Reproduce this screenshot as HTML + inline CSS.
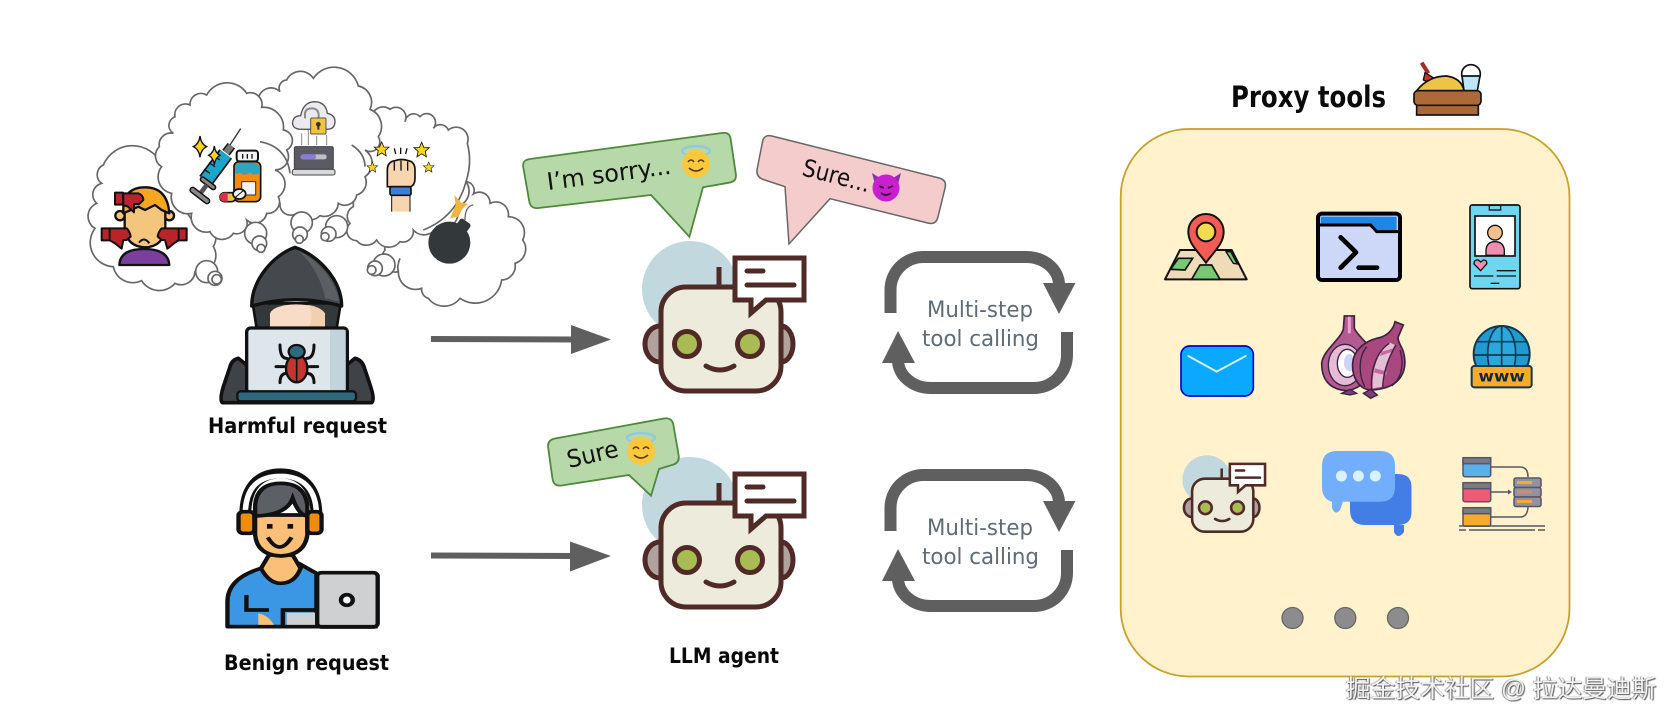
<!DOCTYPE html>
<html lang="en"><head><meta charset="utf-8"><title>Proxy tools diagram</title>
<style>
html,body{margin:0;padding:0;background:#fff;width:1678px;height:728px;overflow:hidden}
svg{position:absolute;left:0;top:0}
text{font-family:"DejaVu Sans","Liberation Sans",sans-serif}
.wm{position:absolute;left:1346px;top:675px;width:330px;font:24.700px/30px "Liberation Sans","Noto Sans CJK SC",sans-serif;color:#f2f2f2;text-shadow:1px 1px 1px #555,-1px 0 1px #888;white-space:nowrap}
</style></head><body>
<svg width="1678" height="728" viewBox="0 0 1678 728" xmlns="http://www.w3.org/2000/svg">
<defs>
<g id="robot">
<circle cx="690" cy="289" r="48" fill="#c1d9de"/>
<ellipse cx="660" cy="344" rx="15" ry="18" fill="#b2a29e" stroke="#4f2a26" stroke-width="5"/>
<ellipse cx="781" cy="344" rx="12" ry="18" fill="#b2a29e" stroke="#4f2a26" stroke-width="5"/>
<line x1="719" y1="267" x2="719" y2="287" stroke="#4f2a26" stroke-width="5"/>
<rect x="661" y="287" width="120" height="104" rx="25" fill="#ecebdc" stroke="#4f2a26" stroke-width="5"/>
<ellipse cx="687" cy="344" rx="12.500" ry="12.500" fill="#a9bc53" stroke="#4f2a26" stroke-width="5"/>
<ellipse cx="750" cy="344" rx="12.500" ry="12.500" fill="#a9bc53" stroke="#4f2a26" stroke-width="5"/>
<path d="M706 366Q720 374 734 366" fill="none" stroke="#4f2a26" stroke-width="5" stroke-linecap="round"/>
<path d="M735 258H804V300H766L751 313V300H735Z" fill="#fff" stroke="#4f2a26" stroke-width="5" stroke-linejoin="miter"/>
<line x1="747" y1="271" x2="763" y2="271" stroke="#4f2a26" stroke-width="5" stroke-linecap="round"/>
<line x1="747" y1="285" x2="794" y2="285" stroke="#4f2a26" stroke-width="5" stroke-linecap="round"/>
</g>
<g id="loop">
<g fill="none" stroke="#5f5f5f" stroke-width="12">
<path d="M890.500 313V290A33 33 0 0 1 923.500 257H1026A33 28 0 0 1 1059 285"/>
<path d="M1067 332V355A33 33 0 0 1 1034 388H931A33 28 0 0 1 898 360"/>
</g>
<polygon points="1043,283 1075.500,283 1059,314" fill="#5f5f5f"/>
<polygon points="882,363 915,363 898,331" fill="#5f5f5f"/>
<text x="927" y="317" font-size="22" fill="#5f6b75" textLength="106" lengthAdjust="spacingAndGlyphs">Multi-step</text>
<text x="922" y="346" font-size="22" fill="#5f6b75" textLength="117" lengthAdjust="spacingAndGlyphs">tool calling</text>
</g>
<g id="angel">
<ellipse cx="0" cy="-13" rx="14" ry="5" fill="none" stroke="#8ccbe3" stroke-width="2.400"/>
<circle r="14" fill="#fbc83c"/>
<path d="M-8-2Q-5-6-2-2M2-2Q5-6 8-2" fill="none" stroke="#5a3a10" stroke-width="1.500"/>
<path d="M-7 4Q0 10 7 4" fill="none" stroke="#5a3a10" stroke-width="1.700"/>
</g>
<polygon id="star" points="0,-10 3,-3.200 10,-3 4.700,1.800 6.200,9 0,5 -6.200,9 -4.700,1.800 -10,-3 -3,-3.200" fill="#f7d21e" stroke="#111" stroke-width="1.100"/>
</defs>

<!-- clouds -->
<g transform="translate(60 50) scale(.33333)">
<g fill="#fff" stroke="#666" stroke-width="5">
<path d="M125 400A32 32 0 0 1 130 345A95 95 0 0 1 305 345L340 420L395 510A55 55 0 0 1 460 590A50 50 0 0 1 405 665A42 42 0 0 1 345 700A62 62 0 0 1 245 692A60 60 0 0 1 160 650A72 72 0 0 1 105 535A42 42 0 0 1 110 460A35 35 0 0 1 125 400Z"/>
<path d="M1215 395A26 26 0 0 1 1240 432A32 32 0 0 1 1290 460A38 38 0 0 1 1345 500A48 48 0 0 1 1388 570A45 45 0 0 1 1365 640A42 42 0 0 1 1325 690A80 80 0 0 1 1200 745A60 60 0 0 1 1105 745A28 28 0 0 1 1085 715A52 52 0 0 1 1015 665A40 40 0 0 1 975 600A48 48 0 0 1 985 560L1100 450Z"/>
<path d="M935 205A34 34 0 0 1 990 178A30 30 0 0 1 1035 215A26 26 0 0 1 1080 200A26 26 0 0 1 1120 235A26 26 0 0 1 1165 240A36 36 0 0 1 1222 280A200 200 0 0 1 1218 395A48 48 0 0 1 1190 470A45 45 0 0 1 1130 530A42 42 0 0 1 1060 540A32 32 0 0 1 1020 575A42 42 0 0 1 950 570A38 38 0 0 1 890 572A30 30 0 0 1 870 520A32 32 0 0 1 880 470L880 300Z"/>
<path d="M595 150A38 38 0 0 1 660 125A24 24 0 0 1 680 90A46 46 0 0 1 760 85A75 75 0 0 1 895 108A50 50 0 0 1 930 178A55 55 0 0 1 955 260A29 29 0 0 1 915 300A48 48 0 0 1 915 380A40 40 0 0 1 890 435A36 36 0 0 1 835 460A42 42 0 0 1 780 497A46 46 0 0 1 710 490A32 32 0 0 1 660 460L600 300Z"/>
<path d="M298 290A35 35 0 0 1 340 250A28 28 0 0 1 345 200A32 32 0 0 1 390 165A33 33 0 0 1 440 135A70 70 0 0 1 560 130A35 35 0 0 1 605 172A60 60 0 0 1 670 240A32 32 0 0 1 680 300A40 40 0 0 1 645 360A45 45 0 0 1 655 440A35 35 0 0 1 620 490A36 36 0 0 1 560 510A32 32 0 0 1 520 550A40 40 0 0 1 450 545A45 45 0 0 1 395 490A50 50 0 0 1 335 430A50 50 0 0 1 305 350A38 38 0 0 1 298 290Z"/>
</g>
<g fill="none" stroke="#666" stroke-width="5">
<path d="M600 275Q680 290 690 370"/><path d="M875 285Q915 310 915 350"/><path d="M1218 395Q1190 500 1090 540"/><path d="M1020 625Q1010 650 1015 665"/>
</g>
<g fill="#fff" stroke="#666" stroke-width="5">
<circle cx="440" cy="665" r="33"/><circle cx="465" cy="685" r="21"/><circle cx="470" cy="688" r="14"/>
<circle cx="587" cy="550" r="33"/><circle cx="598" cy="580" r="22"/><circle cx="603" cy="595" r="12"/>
<circle cx="725" cy="518" r="32"/><circle cx="720" cy="553" r="22"/><circle cx="718" cy="568" r="12"/>
<circle cx="830" cy="530" r="33"/><circle cx="806" cy="552" r="22"/><circle cx="795" cy="560" r="12"/>
<circle cx="972" cy="645" r="33"/><circle cx="945" cy="655" r="22"/><circle cx="935" cy="660" r="13"/>
</g>

<!-- sad person -->
<g stroke="#111" stroke-width="7" stroke-linejoin="round">
<circle cx="180" cy="497" r="14" fill="#f4c57c"/><circle cx="328" cy="497" r="14" fill="#f4c57c"/>
<path d="M194 465V530Q198 590 255 592Q312 590 316 530V465Z" fill="#f4c57c"/>
<path d="M190 490V470Q195 412 255 412Q322 412 328 490L305 480L285 465L255 480L235 470Z" fill="#f5a623"/>
<path d="M178 645Q180 597 252 597Q325 597 328 645Z" fill="#7a3f9d"/>
</g>
<path d="M237 578Q252 558 268 580" fill="none" stroke="#111" stroke-width="6"/>
<g fill="#b8242a" stroke="#111" stroke-width="6" stroke-linejoin="round">
<path d="M190 430H235Q250 435 250 450L238 462H222L222 487L204 470L190 465Z"/>
<rect x="165" y="428" width="24" height="36"/>
<path d="M148 535H200Q210 545 212 560L200 570H190L185 596L165 580L148 570Z"/>
<rect x="125" y="535" width="24" height="36"/>
<path d="M357 535H305Q295 545 293 560L305 570H315L322 596L342 580L357 570Z"/>
<rect x="356" y="535" width="24" height="36"/>
</g>

<!-- syringe and pills -->
<line x1="542" y1="236" x2="510" y2="285" stroke="#333" stroke-width="4"/>
<line x1="514" y1="287" x2="498" y2="308" stroke="#111" stroke-width="28"/>
<line x1="514" y1="287" x2="498" y2="308" stroke="#777" stroke-width="19"/>
<line x1="497" y1="312" x2="437" y2="392" stroke="#111" stroke-width="48"/>
<line x1="497" y1="312" x2="437" y2="392" stroke="#1aa6c9" stroke-width="38"/>
<path d="M480 330L462 318M465 350L447 338M450 370L432 358" stroke="#111" stroke-width="4" fill="none"/>
<line x1="428" y1="388" x2="460" y2="412" stroke="#111" stroke-width="18" stroke-linecap="round"/>
<line x1="428" y1="388" x2="460" y2="412" stroke="#888" stroke-width="9" stroke-linecap="round"/>
<line x1="440" y1="405" x2="420" y2="432" stroke="#555" stroke-width="14"/>
<line x1="398" y1="420" x2="441" y2="453" stroke="#111" stroke-width="20" stroke-linecap="round"/>
<line x1="398" y1="420" x2="441" y2="453" stroke="#888" stroke-width="11" stroke-linecap="round"/>
<path d="M420 258Q423 282 440 290Q423 298 420 322Q417 298 400 290Q417 282 420 258Z" fill="#f7d21e" stroke="#111" stroke-width="4"/>
<path d="M463 288Q465 308 480 316Q465 324 463 345Q461 324 446 316Q461 308 463 288Z" fill="#f7d21e" stroke="#111" stroke-width="4"/>
<rect x="522" y="335" width="80" height="120" rx="15" fill="#f58a0c" stroke="#111" stroke-width="5"/>
<path d="M525 368V352Q530 338 540 338H585Q600 342 600 368Q585 380 570 368Q550 380 540 368Q530 376 525 368Z" fill="#2fa5c4"/>
<rect x="530" y="302" width="64" height="32" rx="8" fill="#f3f3f3" stroke="#111" stroke-width="6"/>
<g stroke="#111" stroke-width="4"><line x1="548" y1="312" x2="548" y2="326"/><line x1="562" y1="312" x2="562" y2="326"/><line x1="576" y1="312" x2="576" y2="326"/></g>
<rect x="545" y="395" width="42" height="40" fill="#f3f3f3" stroke="#333" stroke-width="3"/>
<rect x="480" y="428" width="48" height="27" rx="13" fill="#ecc33a" stroke="#111" stroke-width="5"/>
<path d="M493 428A13 13 0 0 0 493 455H503V428Z" fill="#d4344a"/>
<ellipse cx="538" cy="432" rx="19" ry="15" fill="#eef2f2" stroke="#111" stroke-width="5"/>
<line x1="526" y1="442" x2="550" y2="422" stroke="#111" stroke-width="3"/>

<!-- lock -->
<path d="M720 238Q695 235 698 215Q702 197 722 197Q730 155 765 155Q798 157 802 190Q825 195 825 215Q825 238 800 238Z" fill="#eceaf0" stroke="#555" stroke-width="4"/>
<path d="M735 205V190Q737 175 755 175Q775 175 776 195V205" fill="none" stroke="#8a8a8a" stroke-width="6"/>
<rect x="752" y="204" width="46" height="48" rx="3" fill="#f3c33d" stroke="#555" stroke-width="3"/>
<circle cx="775" cy="223" r="7" fill="#333"/><rect x="772" y="225" width="6" height="14" fill="#333"/>
<g stroke="#888" stroke-width="3"><line x1="745" y1="240" x2="745" y2="285"/><line x1="725" y1="250" x2="725" y2="285"/><line x1="770" y1="258" x2="770" y2="285"/><line x1="800" y1="255" x2="800" y2="285"/></g>
<rect x="703" y="290" width="117" height="68" rx="5" fill="#5a5b64" stroke="#444" stroke-width="3"/>
<rect x="722" y="313" width="78" height="15" rx="7" fill="#bfbfc5"/><rect x="722" y="313" width="46" height="15" rx="7" fill="#8a7bd6"/>
<rect x="697" y="358" width="128" height="17" rx="6" fill="#d8d8de" stroke="#444" stroke-width="3"/>

<!-- fist -->
<rect x="995" y="430" width="55" height="55" fill="#f7d5ae"/>
<line x1="995" y1="435" x2="995" y2="485" stroke="#111" stroke-width="3"/><line x1="1050" y1="435" x2="1050" y2="485" stroke="#111" stroke-width="3"/>
<path d="M982 410V360Q982 335 1005 332Q1025 325 1045 332Q1065 335 1065 360V385Q1065 405 1052 410Z" fill="#f7d5ae" stroke="#111" stroke-width="5"/>
<g stroke="#111" stroke-width="4"><line x1="1003" y1="335" x2="1003" y2="362"/><line x1="1023" y1="332" x2="1023" y2="362"/><line x1="1043" y1="335" x2="1043" y2="362"/></g>
<rect x="990" y="410" width="63" height="26" rx="5" fill="#3b7fd9" stroke="#111" stroke-width="5"/>
<use href="#star" transform="translate(965 298) scale(2.200)"/><use href="#star" transform="translate(1085 300) scale(2.300)"/>
<use href="#star" transform="translate(937 352) scale(1.600)"/><use href="#star" transform="translate(1106 352) scale(1.600)"/>
<g stroke="#111" stroke-width="4"><line x1="1003" y1="295" x2="1007" y2="312"/><line x1="1022" y1="293" x2="1022" y2="312"/><line x1="1041" y1="295" x2="1037" y2="312"/></g>

<!-- bomb -->
<path d="M1215 510Q1215 468 1240 465" fill="none" stroke="#666" stroke-width="4"/>
<polygon points="1170,505 1187,465 1183,435 1203,458 1225,462 1208,475 1195,500" fill="#f0b440"/>
<circle cx="1168" cy="578" r="63" fill="#33383a"/>
<rect x="1190" y="510" width="38" height="36" rx="8" transform="rotate(35 1208 528)" fill="#33383a"/>

<!-- hacker -->
<path d="M487 1058Q478 1050 490 1010L510 950Q515 930 535 925L560 945H860L885 925Q905 930 912 950L932 1010Q945 1050 935 1058Z" fill="#3f4347" stroke="#111" stroke-width="11" stroke-linejoin="round"/>
<path d="M578 760L590 835H830L842 760Z" fill="#35383b" stroke="#111" stroke-width="8"/>
<path d="M630 835V790Q640 765 708 763Q780 765 795 790V835Z" fill="#f8dcc8"/>
<path d="M745 765Q780 770 795 790V835H745Q765 800 745 765Z" fill="#f2cfae"/>
<path d="M705 592C640 615 575 690 575 768Q705 730 845 768C845 690 775 615 705 592Z" fill="#45494d" stroke="#111" stroke-width="10" stroke-linejoin="round"/>
<path d="M712 600C775 630 825 690 838 755L795 745C785 690 755 635 712 600Z" fill="#5b5f63"/>
<rect x="560" y="834" width="302" height="195" rx="12" fill="#dde6ea" stroke="#111" stroke-width="10"/>
<rect x="810" y="840" width="47" height="184" fill="#c3d3db"/>
<rect x="532" y="1024" width="356" height="30" rx="10" fill="#2d6a7f" stroke="#111" stroke-width="7"/>
<g stroke="#111" stroke-width="9" fill="none" stroke-linecap="round" stroke-linejoin="round">
<path d="M680 925Q660 925 660 885M740 925Q762 925 762 885M672 950H648M748 950H773M680 970Q660 970 660 998M740 970Q762 970 762 998"/>
</g>
<ellipse cx="710" cy="955" rx="32" ry="42" fill="#c1372f" stroke="#111" stroke-width="7"/>
<ellipse cx="710" cy="905" rx="24" ry="20" fill="#2d6a7f" stroke="#111" stroke-width="7"/>
<line x1="710" y1="925" x2="710" y2="995" stroke="#111" stroke-width="5"/>
</g>
<text x="208" y="433" font-size="21" font-weight="bold" fill="#0a0a0a" textLength="179" lengthAdjust="spacingAndGlyphs">Harmful request</text>

<!-- benign person -->
<g transform="translate(180 420) scale(.3954 .33333)">
<path d="M165 285C165 200 200 160 255 160C305 160 345 200 345 285" fill="none" stroke="#111" stroke-width="30"/>
<path d="M165 285C165 200 200 168 255 168C305 168 345 200 345 285" fill="none" stroke="#fff" stroke-width="14"/>
<path d="M120 620V545Q120 475 205 445L300 430L345 460V620Z" fill="#3b97e3" stroke="#111" stroke-width="11" stroke-linejoin="round"/>
<path d="M205 445Q225 490 255 490Q290 490 305 445L285 405H225Z" fill="#fbbf77" stroke="#111" stroke-width="11"/>
<path d="M190 285H322V345Q315 405 255 408Q195 405 190 345Z" fill="#fbbf77" stroke="#111" stroke-width="11"/>
<path d="M190 288V255Q195 190 255 190Q315 190 322 255V288Q300 285 285 235Q270 285 190 288Z" fill="#5c5f66" stroke="#111" stroke-width="11"/>
<rect x="148" y="275" width="40" height="65" rx="12" fill="#f08c0c" stroke="#111" stroke-width="11"/>
<rect x="322" y="275" width="36" height="65" rx="12" fill="#f08c0c" stroke="#111" stroke-width="11"/>
<rect x="220" y="312" width="14" height="14" fill="#111"/><rect x="272" y="312" width="14" height="14" fill="#111"/>
<path d="M222 352Q252 410 282 352" fill="none" stroke="#111" stroke-width="11"/>
<path d="M168 525V570H225M260 620V570H345" fill="none" stroke="#111" stroke-width="11"/>
<path d="M198 620V580Q225 585 240 620Z" fill="#fbbf77"/>
<rect x="270" y="578" width="75" height="42" fill="#cfd0d2"/>
<rect x="347" y="458" width="153" height="163" rx="11" fill="#cfd0d2" stroke="#111" stroke-width="11"/>
<ellipse cx="422" cy="540" rx="15" ry="16" fill="#fff" stroke="#111" stroke-width="11"/>
<line x1="120" y1="620" x2="500" y2="620" stroke="#111" stroke-width="11"/>
</g>
<text x="224" y="670" font-size="21" font-weight="bold" fill="#0a0a0a" textLength="165" lengthAdjust="spacingAndGlyphs">Benign request</text>

<!-- arrows -->
<line x1="431" y1="339" x2="574" y2="339.500" stroke="#5f5f5f" stroke-width="6"/>
<polygon points="571,325 611,339.500 571,354" fill="#5f5f5f"/>
<line x1="431" y1="555.500" x2="574" y2="556" stroke="#5f5f5f" stroke-width="6"/>
<polygon points="570,541.500 611,556 570,571.500" fill="#5f5f5f"/>

<!-- robots -->
<use href="#robot"/>
<use href="#robot" y="216"/>

<!-- bubbles -->
<path d="M530 159L721.700 133Q730 131.500 730.800 140L735.800 173.800Q737 181.700 729 182.700L703 187.300L689.400 236.700L651 195L538.500 208Q530.600 209 529.200 201.100L523.400 167.900Q521.500 160 530 159Z" fill="#b7d8a8" stroke="#4d8a3a" stroke-width="1.800"/>
<text transform="translate(548 190) rotate(-7.500)" font-size="24" fill="#111" textLength="125" lengthAdjust="spacingAndGlyphs">I’m sorry...</text>
<use href="#angel" x="696" y="164"/>

<path d="M771.800 136L939.200 178Q947 180 945.100 187.800L937.900 217.200Q936 225 928.200 223.100L830 198.700L789 244L785 186.700L763.300 179.500Q755.600 176.700 757.200 168.900L762.500 141.800Q764 134 771.800 136Z" fill="#f4cccc" stroke="#666" stroke-width="1.500"/>
<text transform="translate(801 175) rotate(14.500)" font-size="24" fill="#111" textLength="69" lengthAdjust="spacingAndGlyphs">Sure...</text>
<g transform="translate(886 188)">
<polygon points="-14,-15 -3,-8 -10,0" fill="#8e2ea8"/><polygon points="15,-15 4,-8 11,0" fill="#8e2ea8"/>
<circle r="13.500" fill="#c91fd0"/>
<path d="M-7-2L-2 0M7-2L2 0M-5 5Q0 9 5 5" fill="none" stroke="#33102f" stroke-width="1.800"/>
</g>

<path d="M555 438.500L664 418.500Q672 417 673.400 425L678.600 455Q680 463 672 465L659 469L651 495.700L629 475L561.600 485.500Q553.700 486.700 552.500 478.800L548.200 448Q547 440 555 438.500Z" fill="#b7d8a8" stroke="#4d8a3a" stroke-width="1.800"/>
<text transform="translate(569 468) rotate(-13)" font-size="24" fill="#111" textLength="52" lengthAdjust="spacingAndGlyphs">Sure</text>
<use href="#angel" x="641" y="451"/>

<text x="669" y="663" font-size="21" font-weight="bold" fill="#0a0a0a" textLength="110" lengthAdjust="spacingAndGlyphs">LLM agent</text>

<!-- loops -->
<use href="#loop"/>
<use href="#loop" y="218"/>

<!-- panel -->
<rect x="1120.700" y="129" width="448.800" height="547.500" rx="68" fill="#fff2cc" stroke="#c8a02a" stroke-width="1.800"/>
<text x="1231" y="107" font-size="29" font-weight="bold" fill="#0a0a0a" textLength="155" lengthAdjust="spacingAndGlyphs">Proxy tools</text>

<g transform="translate(1100 50) scale(.33333)">
<!-- food -->
<line x1="965" y1="38" x2="985" y2="70" stroke="#a12a2a" stroke-width="12"/>
<path d="M975 68L1003 85L990 100L970 90Z" fill="#d42f2f" stroke="#111" stroke-width="4"/>
<path d="M950 122Q985 78 1040 78Q1085 85 1092 122Z" fill="#ecc547" stroke="#111" stroke-width="5"/>
<circle cx="1113" cy="72" r="28" fill="#fff" stroke="#111" stroke-width="5"/>
<path d="M1086 78H1140L1132 122H1092Z" fill="#bfe6f5" stroke="#111" stroke-width="5"/>
<rect x="950" y="165" width="185" height="30" fill="#a9683a" stroke="#111" stroke-width="5"/>
<rect x="942" y="122" width="201" height="44" rx="12" fill="#ad6a38" stroke="#111" stroke-width="5"/>

<!-- map -->
<polygon points="240,600 395,600 440,688 195,688" fill="#eedcb8" stroke="#111" stroke-width="6" stroke-linejoin="round"/>
<polygon points="275,688 300,645 335,645 360,688" fill="#78c96f" stroke="#111" stroke-width="5"/>
<polygon points="212,658 235,625 278,625 255,660" fill="#78c96f" stroke="#111" stroke-width="5"/>
<polygon points="378,605 392,605 412,642 400,640" fill="#78c96f" stroke="#111" stroke-width="4"/>
<path d="M318 638C290 600 265 580 265 545A53 53 0 0 1 371 545C371 580 346 600 318 638Z" fill="#f25c54" stroke="#111" stroke-width="6"/>
<circle cx="318" cy="546" r="28" fill="#f5d94e" stroke="#111" stroke-width="6"/>

<!-- terminal -->
<rect x="654" y="491" width="246" height="199" rx="12" fill="#cdd8f8" stroke="#000" stroke-width="12"/>
<path d="M662 500H890V545H830L810 522H662Z" fill="#1e86e6"/>
<path d="M660 525H812L830 545H895" fill="none" stroke="#000" stroke-width="9"/>
<path d="M722 562L768 607L722 653" fill="none" stroke="#000" stroke-width="14" stroke-linecap="round" stroke-linejoin="round"/>
<line x1="776" y1="653" x2="831" y2="653" stroke="#000" stroke-width="14" stroke-linecap="round"/>

<!-- phone -->
<rect x="1110" y="465" width="150" height="251" rx="7" fill="#6fd6f2" stroke="#111" stroke-width="5"/>
<rect x="1168" y="466" width="34" height="14" fill="#6fd6f2" stroke="#111" stroke-width="4"/>
<rect x="1125" y="498" width="120" height="120" fill="#fff" stroke="#111" stroke-width="5"/>
<path d="M1158 616V600Q1160 575 1185 575Q1210 575 1213 600V616Z" fill="#f08db0" stroke="#111" stroke-width="4"/>
<circle cx="1185" cy="548" r="22" fill="#f5c08c" stroke="#111" stroke-width="4"/>
<path d="M1142 662L1122 642Q1122 628 1135 630L1142 636L1150 630Q1162 630 1160 642Z" fill="#f08db0" stroke="#111" stroke-width="4"/>
<g stroke="#111" stroke-width="4"><line x1="1190" y1="662" x2="1248" y2="662"/><line x1="1122" y1="678" x2="1180" y2="678"/><line x1="1190" y1="678" x2="1248" y2="678"/><line x1="1172" y1="700" x2="1198" y2="700"/></g>

<!-- email -->
<rect x="243" y="888" width="217" height="150" rx="26" fill="#0aa8ff" stroke="#0000d0" stroke-width="5"/>
<path d="M265 918L350 965L437 918" fill="none" stroke="#d9f0fc" stroke-width="6" stroke-linecap="round"/>

<!-- onions -->
<path d="M733 798H763V835Q770 850 800 880C830 920 830 1000 745 1022C690 1020 665 990 665 940C670 900 720 870 730 838Z" fill="#b35a92" stroke="#3a2240" stroke-width="5"/>
<line x1="748" y1="800" x2="748" y2="850" stroke="#e4a6cc" stroke-width="9"/>
<ellipse cx="735" cy="945" rx="50" ry="62" fill="#e5bcd6" stroke="#3a2240" stroke-width="4"/>
<ellipse cx="742" cy="940" rx="30" ry="42" fill="#fff" stroke="#3a2240" stroke-width="4"/>
<ellipse cx="748" cy="938" rx="16" ry="26" fill="#cdd4f5"/>
<path d="M725 1030L750 1018L770 1030L750 1035Z" fill="#7a3f76" stroke="#3a2240" stroke-width="4"/>
<path d="M885 815L910 825L895 860C890 870 905 890 910 905C925 960 905 1015 815 1020C780 1020 755 985 758 940C760 905 790 875 830 865C860 860 880 840 885 815Z" fill="#a8487f" stroke="#3a2240" stroke-width="5"/>
<path d="M870 878C835 900 815 960 818 1015L848 1010C850 960 870 910 885 885Z" fill="#e4bed3"/>
<path d="M845 905L880 895L878 905L840 918ZM825 955L862 965L858 975L822 968Z" fill="#c66a9d"/>
<path d="M868 880C830 905 810 960 815 1018M888 885C870 915 850 960 848 1012M900 900C915 950 900 990 875 1008M800 890C775 920 775 975 795 1010" fill="none" stroke="#3a2240" stroke-width="4"/>
<path d="M790 1030L812 1018L832 1035L812 1045Z" fill="#7a3f76" stroke="#3a2240" stroke-width="4"/>

<!-- globe -->
<circle cx="1205" cy="912" r="84" fill="#1f9bd1" stroke="#12384f" stroke-width="6"/>
<ellipse cx="1205" cy="912" rx="42" ry="84" fill="#2aa7dc" stroke="#12384f" stroke-width="5"/>
<g stroke="#12384f" stroke-width="5"><line x1="1205" y1="828" x2="1205" y2="950"/><line x1="1130" y1="875" x2="1280" y2="875"/><line x1="1121" y1="915" x2="1289" y2="915"/></g>
<rect x="1115" y="948" width="180" height="64" rx="8" fill="#f7ab2d" stroke="#12384f" stroke-width="6"/>
<text x="1205" y="995" font-size="44" font-weight="bold" text-anchor="middle" fill="#12283a" textLength="140" lengthAdjust="spacingAndGlyphs">www</text>
</g>

<!-- small robot -->
<use href="#robot" transform="translate(855 332.300) scale(.51)"/>

<!-- chat -->
<path d="M1350 480Q1350 474 1357 474H1398Q1411.500 474 1411.500 487V512Q1411.500 525 1398 525H1404L1404 532Q1398 540 1394 532V525H1365Q1350 525 1350 510Z" fill="#437de6"/>
<path d="M1337 451H1380Q1395 451 1395 466V487Q1395 501.700 1380 501.700H1343L1340 510Q1335 516 1332 508V501.700Q1322 499 1322 487V466Q1322 451 1337 451Z" fill="#73aefd"/>
<circle cx="1341.400" cy="476" r="5.500" fill="#d8f2ff"/><circle cx="1358.400" cy="476" r="5.500" fill="#d8f2ff"/><circle cx="1375.300" cy="476" r="5.500" fill="#d8f2ff"/>

<!-- servers -->
<g stroke="#565666" stroke-width="1.500">
<rect x="1463" y="457.700" width="27.700" height="19" rx="2" fill="#5ab0e8"/><rect x="1463" y="457.700" width="27.700" height="6" fill="#7b7b85"/>
<rect x="1463" y="482.700" width="27.700" height="19" rx="2" fill="#ef5a78"/><rect x="1463" y="482.700" width="27.700" height="6" fill="#7b7b85"/>
<rect x="1463" y="507.700" width="27.700" height="18.500" rx="2" fill="#f7ab2d"/><rect x="1463" y="507.700" width="27.700" height="6" fill="#7b7b85"/>
<path d="M1491 467H1520Q1528 467 1528 477M1491 517H1520Q1528 517 1528 506M1491 492H1510" fill="none"/>
<rect x="1514" y="478" width="27" height="9.500" rx="2" fill="#93939f"/><rect x="1514" y="487.500" width="27" height="9.500" rx="2" fill="#93939f"/><rect x="1514" y="497" width="27" height="9.500" rx="2" fill="#93939f"/>
<path d="M1459 526H1545M1459 530H1466M1469 530H1535M1538 530H1545" fill="none"/>
</g>
<polygon points="1508,489.500 1512,492 1508,494.500" fill="#565666"/>
<g fill="#f7ab2d"><rect x="1517" y="481" width="15" height="3"/><rect x="1517" y="500" width="15" height="3"/></g><rect x="1517" y="490.500" width="15" height="3" fill="#c98e7a"/>

<!-- dots -->
<g fill="#8c8c8c" stroke="#666" stroke-width="1.300"><circle cx="1292.500" cy="618" r="10.500"/><circle cx="1345.300" cy="618" r="10.500"/><circle cx="1398" cy="618" r="10.500"/></g>
</svg>
<div class="wm">掘金技术社区 @ 拉达曼迪斯</div>
</body></html>
